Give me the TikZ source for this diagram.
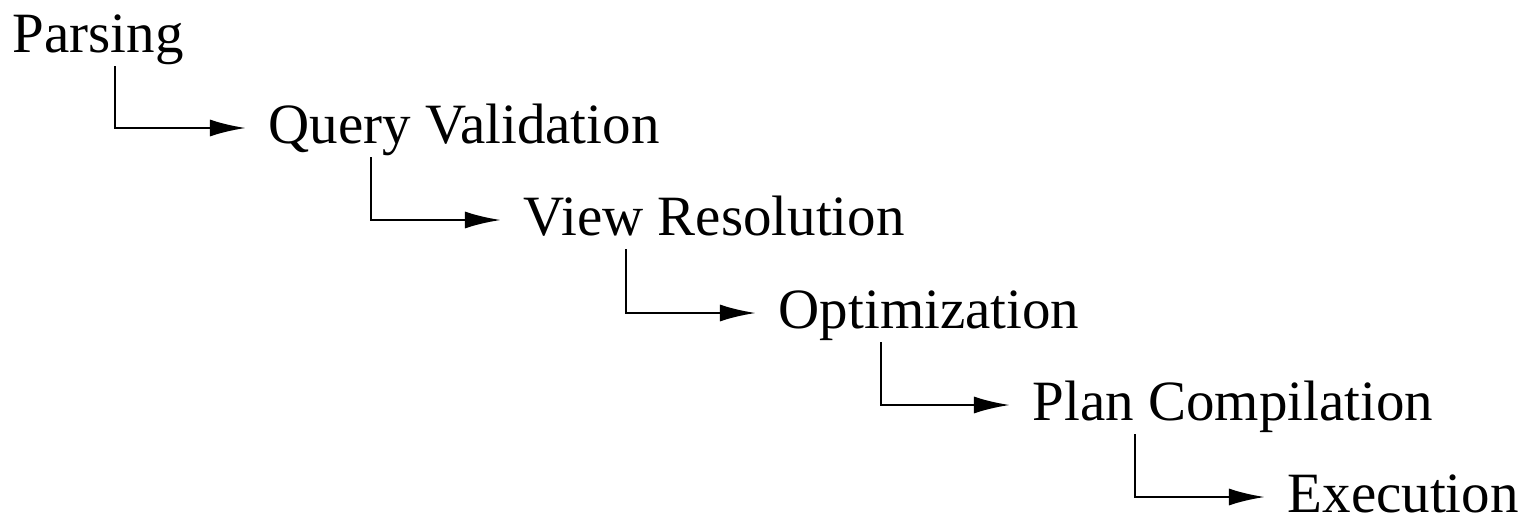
\documentclass[tikz,border=0pt]{standalone}
\usepackage{fontspec}
\setmainfont{Liberation Serif}
\usetikzlibrary{arrows.meta}
\begin{document}
\begin{tikzpicture}[x=0.01cm,y=-0.01cm,
  stage/.style={anchor=base west,inner sep=0pt,font=\fontsize{16.2}{18}\selectfont},
  flow/.style={line width=0.8pt,-{Latex[length=0.36cm,width=0.17cm]}}]
\useasboundingbox (0,0) rectangle (1530,521);
\node[stage] (p) at (12,52) {Parsing};
\node[stage] (q) at (268,143) {Query Validation};
\node[stage] (v) at (523,235) {View Resolution};
\node[stage] (o) at (778,328) {Optimization};
\node[stage] (c) at (1032,420) {Plan Compilation};
\node[stage] (e) at (1287,512) {Execution};
\foreach \a/\b in {p/q,q/v,v/o,o/c,c/e}{
  \draw[flow] ([shift={(103,14)}]\a.base west) |- ([shift={(-22,-15)}]\b.base west);
}
\end{tikzpicture}
\end{document}
